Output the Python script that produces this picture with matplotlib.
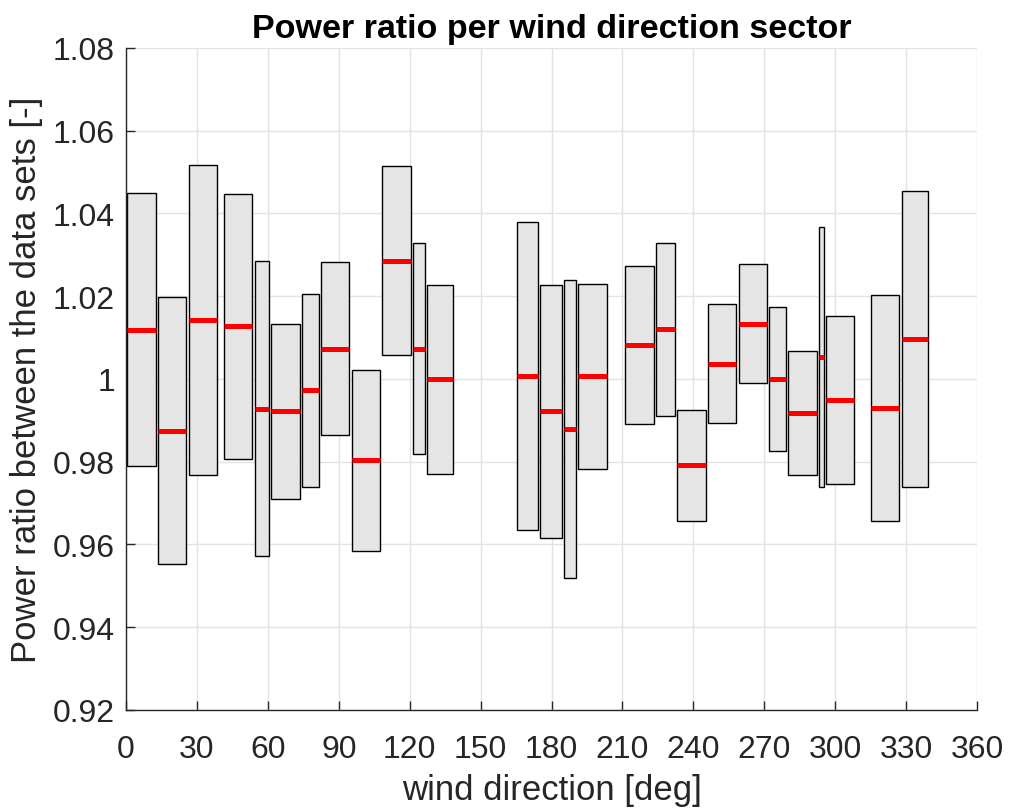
import matplotlib.pyplot as plt
from matplotlib.patches import Rectangle

plt.rcParams['font.family'] = ['Liberation Sans', 'DejaVu Sans']

# sector edges [deg]
sector_lo = [0.6, 13.4, 26.5, 41.5, 54.4, 61.5, 74.3, 82.4, 95.5, 108.3, 121.4, 127.3,
             165.3, 175.3, 185.3, 191.3, 211.2, 224.2, 233.2, 246.2, 259.2, 272.1,
             280.2, 293.0, 296.1, 315.0, 328.1]
sector_hi = [12.6, 25.5, 38.5, 53.4, 60.5, 73.5, 81.5, 94.5, 107.4, 120.4, 126.5, 138.5,
             174.4, 184.3, 190.4, 203.3, 223.2, 232.4, 245.2, 258.2, 271.3, 279.2,
             292.2, 295.1, 308.1, 327.1, 339.1]
# power ratio spread and mean per sector
ratio_max = [1.0449, 1.0197, 1.0518, 1.0447, 1.0284, 1.0134, 1.0206, 1.0282, 1.0021, 1.0514,
             1.0329, 1.0227, 1.0380, 1.0228, 1.0238, 1.0229, 1.0274, 1.0329, 0.9926, 1.0180,
             1.0278, 1.0175, 1.0067, 1.0367, 1.0151, 1.0204, 1.0454]
ratio_min = [0.9789, 0.9553, 0.9768, 0.9807, 0.9573, 0.9710, 0.9740, 0.9864, 0.9585, 1.0058,
             0.9818, 0.9770, 0.9635, 0.9616, 0.9519, 0.9782, 0.9891, 0.9911, 0.9657, 0.9894,
             0.9990, 0.9825, 0.9768, 0.9738, 0.9746, 0.9657, 0.9738]
ratio_mean = [1.0118, 0.9874, 1.0143, 1.0127, 0.9928, 0.9922, 0.9973, 1.0073, 0.9803, 1.0286,
              1.0073, 1.0000, 1.0008, 0.9923, 0.9879, 1.0007, 1.0083, 1.0121, 0.9791, 1.0037,
              1.0134, 1.0000, 0.9918, 1.0053, 0.9949, 0.9930, 1.0096]

fig = plt.figure(figsize=(10.17, 8.12), dpi=100)
ax = fig.add_axes([0.1239, 0.1244, 0.8368, 0.8153])

for lo, hi, mn, mx, m in zip(sector_lo, sector_hi, ratio_min, ratio_max, ratio_mean):
    ax.add_patch(Rectangle((lo, mn), hi - lo, mx - mn, facecolor='#e5e5e5',
                           edgecolor='black', linewidth=1.0, zorder=2))
    ax.plot([lo, hi], [m, m], color='red', linewidth=3.6, solid_capstyle='butt', zorder=3)

ax.set_xlim(0, 360)
ax.set_ylim(0.92, 1.08)
ax.set_xticks(range(0, 361, 30))
ax.set_yticks([0.92, 0.94, 0.96, 0.98, 1.0, 1.02, 1.04, 1.06, 1.08])
ax.set_yticklabels(['0.92', '0.94', '0.96', '0.98', '1', '1.02', '1.04', '1.06', '1.08'])
ax.grid(True, color='#e3e3e3', linewidth=1.0, zorder=0)
ax.set_axisbelow(True)

for s in ['top', 'right']:
    ax.spines[s].set_visible(False)
for s in ['left', 'bottom']:
    ax.spines[s].set_color('#262626')
    ax.spines[s].set_linewidth(1.0)
ax.tick_params(direction='in', length=6.5, width=1.0, color='#262626',
               labelsize=23, labelcolor='#262626')
ax.tick_params(axis='x', pad=17)
ax.tick_params(axis='y', pad=8)

ax.set_xlabel('wind direction [deg]', fontsize=25, color='#262626', labelpad=7)
ax.set_ylabel('Power ratio between the data sets [-]', fontsize=25, color='#262626', labelpad=7)
ax.set_title('Power ratio per wind direction sector', fontsize=24.5, fontweight='bold', pad=8)

fig.savefig('out.png', dpi=100)
